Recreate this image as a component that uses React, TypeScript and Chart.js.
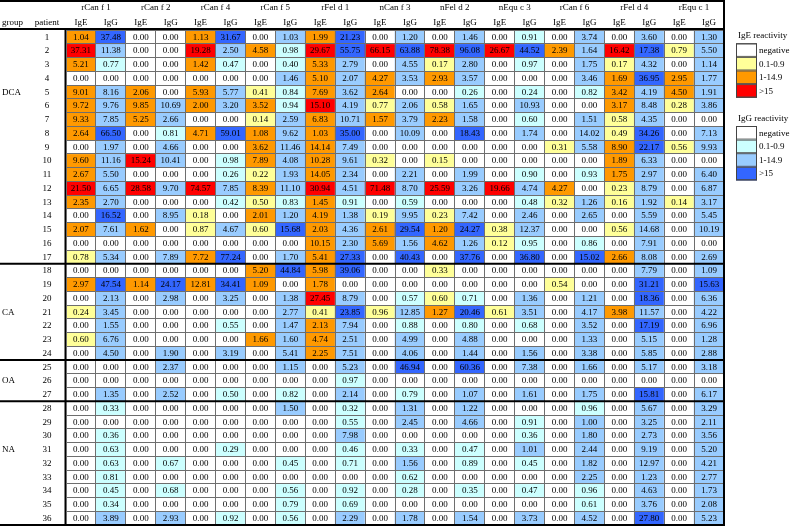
import React, { useEffect, useRef } from "react";
import { Chart, registerables } from "chart.js";

Chart.register(...registerables);

// ---------- data ----------
const antigens = ["rCan f 1", "rCan f 2", "rCan f 4", "rCan f 5", "rFel d 1", "nCan f 3", "nFel d 2", "nEqu c 3", "rCan f 6", "rFel d 4", "rEqu c 1"];
const isotypes = ["IgE", "IgG"];

const groupNames = ["DCA", "CA", "OA", "NA"];
const groupLastPatient = [17, 24, 27, 36];
const groupLabelPatient = [5, 21, 26, 31];

// each row: [rCan f1 IgE, IgG, rCan f2 IgE, IgG, ..., rEqu c1 IgE, IgG]
const p01 = [1.04, 37.48, 0.00, 0.00, 1.13, 31.67, 0.00, 1.03, 1.99, 21.23, 0.00, 1.20, 0.00, 1.46, 0.00, 0.91, 0.00, 3.74, 0.00, 3.60, 0.00, 1.30];
const p02 = [37.31, 11.38, 0.00, 0.00, 19.28, 2.50, 4.58, 0.98, 29.67, 55.75, 66.15, 63.88, 78.38, 96.08, 26.67, 44.52, 2.39, 1.64, 16.42, 17.38, 0.79, 5.50];
const p03 = [5.21, 0.77, 0.00, 0.00, 1.42, 0.47, 0.00, 0.40, 5.33, 2.79, 0.00, 4.55, 0.17, 2.80, 0.00, 0.97, 0.00, 1.75, 0.17, 4.32, 0.00, 1.14];
const p04 = [0.00, 0.00, 0.00, 0.00, 0.00, 0.00, 0.00, 1.46, 5.10, 2.07, 4.27, 3.53, 2.93, 3.57, 0.00, 0.00, 0.00, 3.46, 1.69, 36.95, 2.95, 1.77];
const p05 = [9.01, 8.16, 2.06, 0.00, 5.93, 5.77, 0.41, 0.84, 7.69, 3.62, 2.64, 0.00, 0.00, 0.26, 0.00, 0.24, 0.00, 0.82, 3.42, 4.19, 4.50, 1.91];
const p06 = [9.72, 9.76, 9.85, 10.69, 2.00, 3.20, 3.52, 0.94, 15.10, 4.19, 0.77, 2.06, 0.58, 1.65, 0.00, 10.93, 0.00, 0.00, 3.17, 8.48, 0.28, 3.86];
const p07 = [9.33, 7.85, 5.25, 2.66, 0.00, 0.00, 0.14, 2.59, 6.83, 10.71, 1.57, 3.79, 2.23, 1.58, 0.00, 0.60, 0.00, 1.51, 0.58, 4.35, 0.00, 0.00];
const p08 = [2.64, 66.50, 0.00, 0.81, 4.71, 59.01, 1.08, 9.62, 1.03, 35.00, 0.00, 10.09, 0.00, 18.43, 0.00, 1.74, 0.00, 14.02, 0.49, 34.26, 0.00, 7.13];
const p09 = [0.00, 1.97, 0.00, 4.66, 0.00, 0.00, 3.62, 11.46, 14.14, 7.49, 0.00, 0.00, 0.00, 0.00, 0.00, 0.00, 0.31, 5.58, 8.90, 22.17, 0.56, 9.93];
const p10 = [9.60, 11.16, 15.24, 10.41, 0.00, 0.98, 7.89, 4.08, 10.28, 9.61, 0.32, 0.00, 0.15, 0.00, 0.00, 0.00, 0.00, 0.00, 1.89, 6.33, 0.00, 0.00];
const p11 = [2.67, 5.50, 0.00, 0.00, 0.00, 0.26, 0.22, 1.93, 14.05, 2.34, 0.00, 2.21, 0.00, 1.99, 0.00, 0.90, 0.00, 0.93, 1.75, 2.97, 0.00, 6.40];
const p12 = [21.50, 6.65, 28.58, 9.70, 74.57, 7.85, 8.39, 11.10, 30.94, 4.51, 71.48, 8.70, 25.59, 3.26, 19.66, 4.74, 4.27, 0.00, 0.23, 8.79, 0.00, 6.87];
const p13 = [2.35, 2.70, 0.00, 0.00, 0.00, 0.42, 0.50, 0.83, 1.45, 0.91, 0.00, 0.59, 0.00, 0.00, 0.00, 0.48, 0.32, 1.26, 0.16, 1.92, 0.14, 3.17];
const p14 = [0.00, 16.52, 0.00, 8.95, 0.18, 0.00, 2.01, 1.20, 4.19, 1.38, 0.19, 9.95, 0.23, 7.42, 0.00, 2.46, 0.00, 2.65, 0.00, 5.59, 0.00, 5.45];
const p15 = [2.07, 7.61, 1.62, 0.00, 0.87, 4.67, 0.60, 15.68, 2.03, 4.36, 2.61, 29.54, 1.20, 24.27, 0.38, 12.37, 0.00, 0.00, 0.56, 14.68, 0.00, 10.19];
const p16 = [0.00, 0.00, 0.00, 0.00, 0.00, 0.00, 0.00, 0.00, 10.15, 2.30, 5.69, 1.56, 4.62, 1.26, 0.12, 0.95, 0.00, 0.86, 0.00, 7.91, 0.00, 0.00];
const p17 = [0.78, 5.34, 0.00, 7.89, 7.72, 77.24, 0.00, 1.70, 5.41, 27.33, 0.00, 40.43, 0.00, 37.76, 0.00, 36.80, 0.00, 15.02, 2.66, 8.08, 0.00, 2.69];
const p18 = [0.00, 0.00, 0.00, 0.00, 0.00, 0.00, 5.20, 44.84, 5.98, 39.06, 0.00, 0.00, 0.33, 0.00, 0.00, 0.00, 0.00, 0.00, 0.00, 7.79, 0.00, 1.09];
const p19 = [2.97, 47.54, 1.14, 24.17, 12.81, 34.41, 1.09, 0.00, 1.78, 0.00, 0.00, 0.00, 0.00, 0.00, 0.00, 0.00, 0.54, 0.00, 0.00, 31.21, 0.00, 15.63];
const p20 = [0.00, 2.13, 0.00, 2.98, 0.00, 3.25, 0.00, 1.38, 27.45, 8.79, 0.00, 0.57, 0.60, 0.71, 0.00, 1.36, 0.00, 1.21, 0.00, 18.36, 0.00, 6.36];
const p21 = [0.24, 3.45, 0.00, 0.00, 0.00, 0.00, 0.00, 2.77, 0.41, 23.85, 0.96, 12.85, 1.27, 20.46, 0.61, 3.51, 0.00, 4.17, 3.98, 11.57, 0.00, 4.22];
const p22 = [0.00, 1.55, 0.00, 0.00, 0.00, 0.55, 0.00, 1.47, 2.13, 7.94, 0.00, 0.88, 0.00, 0.80, 0.00, 0.68, 0.00, 3.52, 0.00, 17.19, 0.00, 6.96];
const p23 = [0.60, 6.76, 0.00, 0.00, 0.00, 0.00, 1.66, 1.60, 4.74, 2.51, 0.00, 4.99, 0.00, 4.88, 0.00, 0.00, 0.00, 1.33, 0.00, 5.15, 0.00, 1.28];
const p24 = [0.00, 4.50, 0.00, 1.90, 0.00, 3.19, 0.00, 5.41, 2.25, 7.51, 0.00, 4.06, 0.00, 1.44, 0.00, 1.56, 0.00, 3.38, 0.00, 5.85, 0.00, 2.88];
const p25 = [0.00, 0.00, 0.00, 2.37, 0.00, 0.00, 0.00, 1.15, 0.00, 5.23, 0.00, 46.94, 0.00, 60.36, 0.00, 7.38, 0.00, 1.66, 0.00, 5.17, 0.00, 3.18];
const p26 = [0.00, 0.00, 0.00, 0.00, 0.00, 0.00, 0.00, 0.00, 0.00, 0.97, 0.00, 0.00, 0.00, 0.00, 0.00, 0.00, 0.00, 0.00, 0.00, 0.00, 0.00, 0.00];
const p27 = [0.00, 1.35, 0.00, 2.52, 0.00, 0.50, 0.00, 0.82, 0.00, 2.14, 0.00, 0.79, 0.00, 1.07, 0.00, 1.61, 0.00, 1.75, 0.00, 15.81, 0.00, 6.17];
const p28 = [0.00, 0.33, 0.00, 0.00, 0.00, 0.00, 0.00, 1.50, 0.00, 0.32, 0.00, 1.31, 0.00, 1.22, 0.00, 0.00, 0.00, 0.96, 0.00, 5.67, 0.00, 3.29];
const p29 = [0.00, 0.00, 0.00, 0.00, 0.00, 0.00, 0.00, 0.00, 0.00, 0.55, 0.00, 2.45, 0.00, 4.66, 0.00, 0.91, 0.00, 1.00, 0.00, 3.25, 0.00, 2.11];
const p30 = [0.00, 0.36, 0.00, 0.00, 0.00, 0.00, 0.00, 0.00, 0.00, 7.98, 0.00, 0.00, 0.00, 0.00, 0.00, 0.36, 0.00, 1.80, 0.00, 2.73, 0.00, 3.56];
const p31 = [0.00, 0.63, 0.00, 0.00, 0.00, 0.29, 0.00, 0.00, 0.00, 0.46, 0.00, 0.33, 0.00, 0.47, 0.00, 1.01, 0.00, 2.44, 0.00, 9.19, 0.00, 5.20];
const p32 = [0.00, 0.63, 0.00, 0.67, 0.00, 0.00, 0.00, 0.45, 0.00, 0.71, 0.00, 1.56, 0.00, 0.89, 0.00, 0.45, 0.00, 1.82, 0.00, 12.97, 0.00, 4.21];
const p33 = [0.00, 0.81, 0.00, 0.00, 0.00, 0.00, 0.00, 0.00, 0.00, 0.00, 0.00, 0.62, 0.00, 0.00, 0.00, 0.00, 0.00, 2.25, 0.00, 1.23, 0.00, 2.77];
const p34 = [0.00, 0.45, 0.00, 0.68, 0.00, 0.00, 0.00, 0.56, 0.00, 0.92, 0.00, 0.28, 0.00, 0.35, 0.00, 0.47, 0.00, 0.96, 0.00, 4.63, 0.00, 1.73];
const p35 = [0.00, 0.34, 0.00, 0.00, 0.00, 0.00, 0.00, 0.79, 0.00, 0.69, 0.00, 0.00, 0.00, 0.00, 0.00, 0.00, 0.00, 0.61, 0.00, 3.76, 0.00, 2.08];
const p36 = [0.00, 3.89, 0.00, 2.93, 0.00, 0.92, 0.00, 0.56, 0.00, 2.29, 0.00, 1.78, 0.00, 1.54, 0.00, 3.73, 0.00, 4.52, 0.00, 27.80, 0.00, 5.23];

const patientRows = [p01, p02, p03, p04, p05, p06, p07, p08, p09, p10, p11, p12, p13, p14, p15, p16, p17, p18, p19, p20, p21, p22, p23, p24, p25, p26, p27, p28, p29, p30, p31, p32, p33, p34, p35, p36];

// legend
const legendLabels = ["negative", "0.1-0.9", "1-14.9", ">15"];
const legendTitles = ["IgE reactivity", "IgG reactivity"];
const reactivityThresholds = [0.1, 1, 15];
const igeColors = ["#ffffff", "#ffff99", "#ff9900", "#ff0000"];
const iggColors = ["#ffffff", "#ccffff", "#99ccff", "#3366ff"];

// ---------- helpers ----------
const FONT = '"Liberation Serif", "Times New Roman", serif';
const colKeys: string[] = [];
antigens.forEach((a) => isotypes.forEach((t) => colKeys.push(a + "|" + t)));

function levelOf(v: number): number {
  let lvl = 0;
  reactivityThresholds.forEach((t, i) => {
    if (v >= t - 1e-9) lvl = i + 1;
  });
  return lvl;
}
function colorFor(v: number, colIdx: number): string {
  const palette = colIdx % 2 === 0 ? igeColors : iggColors;
  return palette[levelOf(v)];
}

const tablePlugin = {
  id: "tableDecor",
  afterDatasetsDraw(chart: any) {
    const ctx = chart.ctx;
    ctx.save();
    ctx.font = "9px " + FONT;
    ctx.fillStyle = "#000";
    ctx.textAlign = "center";
    ctx.textBaseline = "middle";
    chart.data.datasets.forEach((ds: any, di: number) => {
      const meta = chart.getDatasetMeta(di);
      meta.data.forEach((el: any, i: number) => {
        const v = patientRows[di][i];
        const { x, y, base } = el.getProps(["x", "y", "base"], true);
        ctx.fillText(v.toFixed(2), x, (y + base) / 2 + 0.5);
      });
    });
    ctx.restore();
  },
  afterDraw(chart: any) {
    const ctx = chart.ctx;
    const xs = chart.scales.x;
    const ys = chart.scales.y;
    const area = chart.chartArea;
    ctx.save();
    ctx.fillStyle = "#000";
    ctx.font = "9px " + FONT;
    ctx.textBaseline = "middle";

    // header
    ctx.textAlign = "center";
    antigens.forEach((a, ai) => {
      const x0 = xs.getPixelForValue(ai * 2);
      const x1 = xs.getPixelForValue(ai * 2 + 1);
      ctx.fillText(a, (x0 + x1) / 2, 8);
    });
    colKeys.forEach((k, i) => {
      ctx.fillText(isotypes[i % 2], xs.getPixelForValue(i), 22.5);
    });
    ctx.textAlign = "left";
    ctx.fillText("group", 2, 22.5);
    ctx.textAlign = "center";
    ctx.fillText("patient", 47, 22.5);

    // patient numbers
    patientRows.forEach((_, r) => {
      ctx.fillText(String(r + 1), 47, ys.getPixelForValue(r + 0.5) + 0.5);
    });
    // group labels
    ctx.textAlign = "left";
    groupNames.forEach((g, gi) => {
      ctx.fillText(g, 2, ys.getPixelForValue(groupLabelPatient[gi] - 0.5) + 0.5);
    });

    // frame lines
    ctx.strokeStyle = "#000";
    const hline = (y: number, w: number) => {
      ctx.lineWidth = w;
      ctx.beginPath();
      ctx.moveTo(0, y);
      ctx.lineTo(area.right + 1, y);
      ctx.stroke();
    };
    hline(1, 2);
    hline(area.top - 1, 2);
    groupLastPatient.forEach((p) => hline(ys.getPixelForValue(p), 2));
    ctx.lineWidth = 1.5;
    ctx.beginPath();
    ctx.moveTo(area.left - 0.75, area.top - 1);
    ctx.lineTo(area.left - 0.75, area.bottom + 1);
    ctx.stroke();
    ctx.lineWidth = 2;
    ctx.beginPath();
    ctx.moveTo(area.right, 0);
    ctx.lineTo(area.right, area.bottom + 1);
    ctx.stroke();

    // legends
    const lx = 736;
    const bw = 21;
    const bh = 13.6;
    const tops = [43.3, 126];
    const titleY = [36, 118.5];
    [igeColors, iggColors].forEach((pal, li) => {
      ctx.textAlign = "left";
      ctx.fillStyle = "#000";
      ctx.font = "9px " + FONT;
      ctx.fillText(legendTitles[li], lx + 2, titleY[li]);
      legendLabels.forEach((lab, i) => {
        const y = tops[li] + i * bh;
        ctx.fillStyle = pal[i];
        ctx.fillRect(lx, y, bw, bh);
        ctx.strokeStyle = "#555";
        ctx.lineWidth = 1;
        ctx.strokeRect(lx + 0.5, y + 0.5, bw - 1, bh - 1);
        ctx.fillStyle = "#000";
        ctx.fillText(lab, lx + bw + 2, y + bh / 2 + 0.5);
      });
      ctx.strokeStyle = "#444";
      ctx.lineWidth = 1;
      ctx.strokeRect(lx + 0.5, tops[li] + 0.5, bw - 1, bh * 4 - 1);
    });
    ctx.restore();
  },
};

export default function App() {
  const ref = useRef<HTMLCanvasElement | null>(null);
  useEffect(() => {
    if (!ref.current) return;
    const datasets = patientRows.map((row, r) => ({
      label: "patient " + (r + 1),
      data: row.map((v, i) => ({ x: colKeys[i], y: [r, r + 1] })),
      backgroundColor: row.map((v, i) => colorFor(v, i)),
      borderWidth: 0,
      grouped: false,
      barPercentage: 1,
      categoryPercentage: 1,
    }));
    const chart = new Chart(ref.current, {
      type: "bar",
      data: { labels: colKeys, datasets: datasets as any },
      options: {
        responsive: false,
        animation: false,
        devicePixelRatio: 1,
        layout: { padding: { left: 66, right: 67, top: 30, bottom: 2 } },
        plugins: { legend: { display: false }, tooltip: { enabled: false } },
        scales: {
          x: {
            type: "category",
            offset: true,
            grid: { offset: true, color: "#6e6e6e", lineWidth: 1, drawTicks: false, z: 1 },
            ticks: { display: false },
            border: { display: false },
          },
          y: {
            type: "linear",
            min: 0,
            max: 36,
            reverse: true,
            ticks: { display: false, stepSize: 1 },
            grid: { color: "#6e6e6e", lineWidth: 1, drawTicks: false, z: 1 },
            border: { display: false },
          },
        },
      } as any,
      plugins: [tablePlugin],
    });
    return () => chart.destroy();
  }, []);
  return (
    <div style={{ position: "absolute", left: 0, top: 0, width: 791, height: 527, background: "#fff" }}>
      <canvas ref={ref} width={791} height={527} style={{ display: "block", width: 791, height: 527 }} />
    </div>
  );
}
